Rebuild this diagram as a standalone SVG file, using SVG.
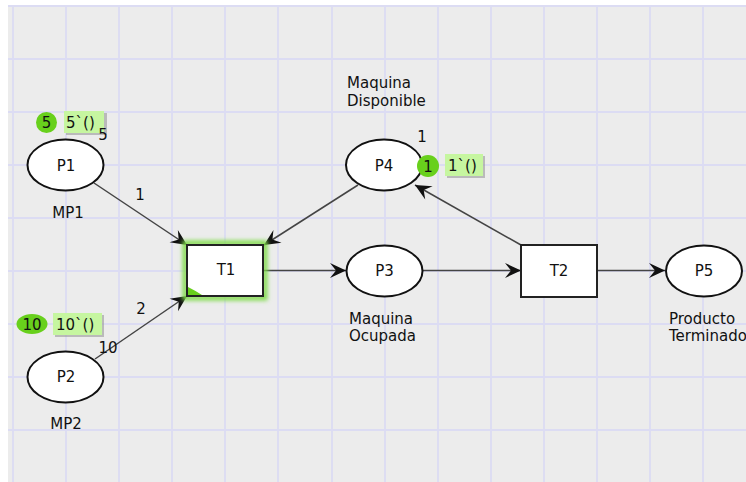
<svg xmlns="http://www.w3.org/2000/svg" width="746" height="482" viewBox="0 0 746 482">
  <style>
    text { font-family: "DejaVu Sans", Verdana, sans-serif; font-size: 15px; fill: #111; }
    .mid { text-anchor: middle; }
    .grid line { stroke: #dcdcf3; stroke-width: 1.8; }
    .place { fill: #fff; stroke: #111; stroke-width: 2; }
    .trans { fill: #fff; stroke: #222; stroke-width: 2; }
    .arc { stroke: #444; stroke-width: 1.5; fill: none; marker-end: url(#head); }
    .tok { fill: #68d01c; }
    .tokbox { fill: #c6f6a0; }
    .shadow { fill: #9a9a9a; opacity: 0.6; }
  </style>
  <defs>
    <marker id="head" markerUnits="userSpaceOnUse" markerWidth="20" markerHeight="20" refX="0" refY="0" viewBox="-17 -10 19 20" orient="auto">
      <path d="M0,0 L-16,-7.5 L-10,0 L-16,7.5 Z" fill="#111"/>
    </marker>
    <filter id="glow" x="-20%" y="-20%" width="140%" height="140%">
      <feGaussianBlur stdDeviation="2"/>
    </filter>
  </defs>

  <!-- canvas -->
  <rect x="0" y="0" width="746" height="482" fill="#fff"/>
  <rect x="8" y="6" width="738" height="476" fill="#ececec"/>
  <g class="grid">
    <line x1="8" y1="6" x2="746" y2="6"/>
    <line x1="8" y1="59" x2="746" y2="59"/>
    <line x1="8" y1="112" x2="746" y2="112"/>
    <line x1="8" y1="165" x2="746" y2="165"/>
    <line x1="8" y1="218" x2="746" y2="218"/>
    <line x1="8" y1="271" x2="746" y2="271"/>
    <line x1="8" y1="324" x2="746" y2="324"/>
    <line x1="8" y1="377" x2="746" y2="377"/>
    <line x1="8" y1="430" x2="746" y2="430"/>
    <line x1="13" y1="6" x2="13" y2="482"/>
    <line x1="66" y1="6" x2="66" y2="482"/>
    <line x1="119" y1="6" x2="119" y2="482"/>
    <line x1="172" y1="6" x2="172" y2="482"/>
    <line x1="225" y1="6" x2="225" y2="482"/>
    <line x1="278" y1="6" x2="278" y2="482"/>
    <line x1="332" y1="6" x2="332" y2="482"/>
    <line x1="385" y1="6" x2="385" y2="482"/>
    <line x1="438" y1="6" x2="438" y2="482"/>
    <line x1="491" y1="6" x2="491" y2="482"/>
    <line x1="544" y1="6" x2="544" y2="482"/>
    <line x1="597" y1="6" x2="597" y2="482"/>
    <line x1="650" y1="6" x2="650" y2="482"/>
    <line x1="703" y1="6" x2="703" y2="482"/>
  </g>

  <!-- arcs -->
  <g id="arcs">
    <line class="arc" x1="94" y1="183" x2="187" y2="245"/>
    <line class="arc" x1="95" y1="359" x2="187" y2="296"/>
    <line class="arc" x1="358" y1="185" x2="264" y2="245"/>
    <line class="arc" x1="264" y1="270.5" x2="346" y2="270.5"/>
    <line class="arc" x1="423" y1="270.5" x2="521" y2="270.5"/>
    <line class="arc" x1="521" y1="245" x2="415" y2="185"/>
    <line class="arc" x1="597" y1="270.5" x2="665" y2="270.5"/>
    <text class="mid" x="140" y="200">1</text>
    <text class="mid" x="141" y="314">2</text>
  </g>

  <!-- places -->
  <g id="P1">
    <ellipse class="place" cx="65.5" cy="165" rx="38" ry="25.5"/>
    <text class="mid" x="66" y="171">P1</text>
    <text class="mid" x="68" y="218">MP1</text>
    <rect class="shadow" x="66" y="113" width="41" height="22"/>
    <rect class="tokbox" x="64" y="111" width="40" height="22"/>
    <text x="66" y="128">5`()</text>
    <circle class="tok" cx="46.5" cy="122.5" r="10.5"/>
    <text class="mid" x="46.5" y="128">5</text>
    <text class="mid" x="103" y="140">5</text>
  </g>

  <g id="P2">
    <ellipse class="place" cx="65.5" cy="377" rx="38" ry="25.5"/>
    <text class="mid" x="66" y="382">P2</text>
    <text class="mid" x="66" y="429">MP2</text>
    <rect class="shadow" x="55" y="315" width="49" height="22"/>
    <rect class="tokbox" x="53" y="313" width="49" height="22"/>
    <text x="56" y="330">10`()</text>
    <ellipse class="tok" cx="32" cy="324" rx="15.5" ry="10"/>
    <text class="mid" x="32" y="329.5">10</text>
    <text class="mid" x="108" y="353">10</text>
  </g>

  <g id="P3">
    <ellipse class="place" cx="384.5" cy="271" rx="38" ry="25.5"/>
    <text class="mid" x="384.5" y="276">P3</text>
    <text x="349" y="324">Maquina</text>
    <text x="349" y="341">Ocupada</text>
  </g>

  <g id="P4">
    <ellipse class="place" cx="384" cy="165" rx="38" ry="25.5"/>
    <text class="mid" x="384" y="171">P4</text>
    <text x="347" y="88">Maquina</text>
    <text x="347" y="106">Disponible</text>
    <text class="mid" x="422" y="142">1</text>
    <rect class="shadow" x="447" y="156" width="38" height="22"/>
    <rect class="tokbox" x="445" y="154" width="38" height="22"/>
    <text x="448" y="171">1`()</text>
    <circle class="tok" cx="428" cy="166" r="11"/>
    <text class="mid" x="428" y="171.5">1</text>
  </g>

  <g id="P5">
    <ellipse class="place" cx="704" cy="271" rx="38" ry="25.5"/>
    <text class="mid" x="704" y="276">P5</text>
    <text x="669" y="324">Producto</text>
    <text x="669" y="341">Terminado</text>
  </g>

  <!-- transitions -->
  <g id="T1">
    <rect x="185" y="243" width="80" height="55" fill="none" stroke="#7fdc4a" stroke-width="5" filter="url(#glow)"/>
    <rect class="trans" x="187" y="245" width="76" height="51" stroke="#2a3a22"/>
    <path d="M188,287 Q196,291 202,295 L188,295 Z" fill="#68d01c"/>
    <text class="mid" x="226" y="275">T1</text>
  </g>

  <g id="T2">
    <rect class="trans" x="521" y="245" width="76" height="52"/>
    <text class="mid" x="559" y="276">T2</text>
  </g>
</svg>
